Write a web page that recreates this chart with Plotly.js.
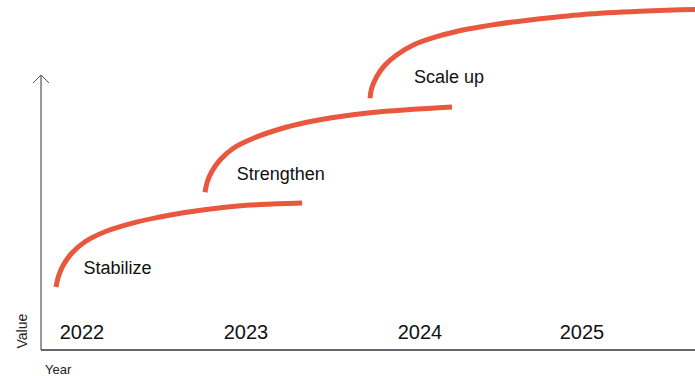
<!DOCTYPE html>
<html>
<head>
<meta charset="utf-8">
<script src="https://cdn.plot.ly/plotly-3.0.1.min.js"></script>
<style>html,body{margin:0;padding:0;background:#fff;}#chart{width:695px;height:376px;}</style>
</head>
<body>
<div id="chart"></div>
<script>
// Phase curves (x in years, y in relative value units)
const stabilizeX = [2021.844, 2021.858, 2021.888, 2021.938, 2022.018, 2022.138, 2022.298, 2022.458, 2022.608, 2022.846, 2023.068, 2023.320];
const stabilizeY = [18.0, 20.94, 24.29, 27.63, 30.94, 33.80, 36.20, 37.91, 39.23, 40.74, 41.54, 42.0];
const strengthenX = [2022.738, 2022.752, 2022.778, 2022.828, 2022.908, 2023.028, 2023.188, 2023.348, 2023.498, 2023.740, 2023.968, 2024.220];
const strengthenY = [45.06, 48.09, 50.94, 54.29, 57.63, 60.49, 63.14, 65.06, 66.37, 67.86, 68.71, 69.43];
const scaleUpX = [2023.728, 2023.738, 2023.768, 2023.818, 2023.888, 2023.988, 2024.128, 2024.308, 2024.488, 2024.688, 2025.006, 2025.348, 2025.678, 2025.828];
const scaleUpY = [71.91, 74.77, 78.09, 81.43, 84.29, 87.14, 89.51, 91.63, 93.09, 94.29, 95.86, 96.77, 97.26, 97.34];

const phaseLabels = ["Stabilize", "Strengthen", "Scale up"];
const phaseLabelX = [2022.213, 2023.193, 2024.202];
const phaseLabelY = [22.9, 50.0, 77.6];

const yearLabels = ["2022", "2023", "2024", "2025"];
const yearLabelX = [2022.0, 2022.984, 2024.028, 2025.0];
const yearLabelY = [4.7, 4.7, 4.7, 4.7];

const lineColor = "#e9573f";
const curveStyle = {mode: "lines", line: {color: lineColor, width: 5, shape: "spline", smoothing: 1}, hoverinfo: "skip", showlegend: false, type: "scatter"};

const data = [
  Object.assign({x: stabilizeX, y: stabilizeY}, curveStyle),
  Object.assign({x: strengthenX, y: strengthenY}, curveStyle),
  Object.assign({x: scaleUpX, y: scaleUpY}, curveStyle),
  {x: phaseLabelX, y: phaseLabelY, text: phaseLabels, mode: "text", type: "scatter",
   textfont: {family: "Liberation Sans, Arial, sans-serif", size: 18, color: "#111"},
   textposition: "middle center", hoverinfo: "skip", showlegend: false},
  {x: yearLabelX, y: yearLabelY, text: yearLabels, mode: "text", type: "scatter",
   textfont: {family: "Liberation Sans, Arial, sans-serif", size: 20, color: "#111"},
   textposition: "middle center", hoverinfo: "skip", showlegend: false}
];

const layout = {
  width: 695, height: 376,
  margin: {l: 41, r: 0, t: 0, b: 26, pad: 0},
  paper_bgcolor: "#fff", plot_bgcolor: "#fff",
  xaxis: {range: [2021.754, 2025.678], showgrid: false, zeroline: false, showticklabels: false, ticks: "", showline: false, fixedrange: true},
  yaxis: {range: [0, 100], showgrid: false, zeroline: false, showticklabels: false, ticks: "", showline: false, fixedrange: true},
  shapes: [
    {type: "line", xref: "paper", yref: "paper", x0: 0, x1: 1, y0: 0, y1: 0, line: {color: "#333", width: 1.5}},
    {type: "line", xref: "paper", yref: "paper", x0: 0, x1: 0, y0: 0, y1: 0.7857, line: {color: "#333", width: 1}},
    {type: "path", xref: "paper", yref: "paper", path: "M-0.01223,0.7629 L0,0.7857 L0.01223,0.7629", line: {color: "#555", width: 1}}
  ],
  annotations: [
    {text: "Value", xref: "paper", yref: "paper", x: -0.029, y: 0.0529, textangle: -90, showarrow: false,
     font: {family: "Liberation Sans, Arial, sans-serif", size: 14, color: "#222"}, xanchor: "center", yanchor: "middle"},
    {text: "Year", xref: "paper", yref: "paper", x: 0.026, y: -0.057, showarrow: false,
     font: {family: "Liberation Sans, Arial, sans-serif", size: 13, color: "#222"}, xanchor: "center", yanchor: "middle"}
  ]
};

Plotly.newPlot("chart", data, layout, {displayModeBar: false, staticPlot: true});
</script>
</body>
</html>
